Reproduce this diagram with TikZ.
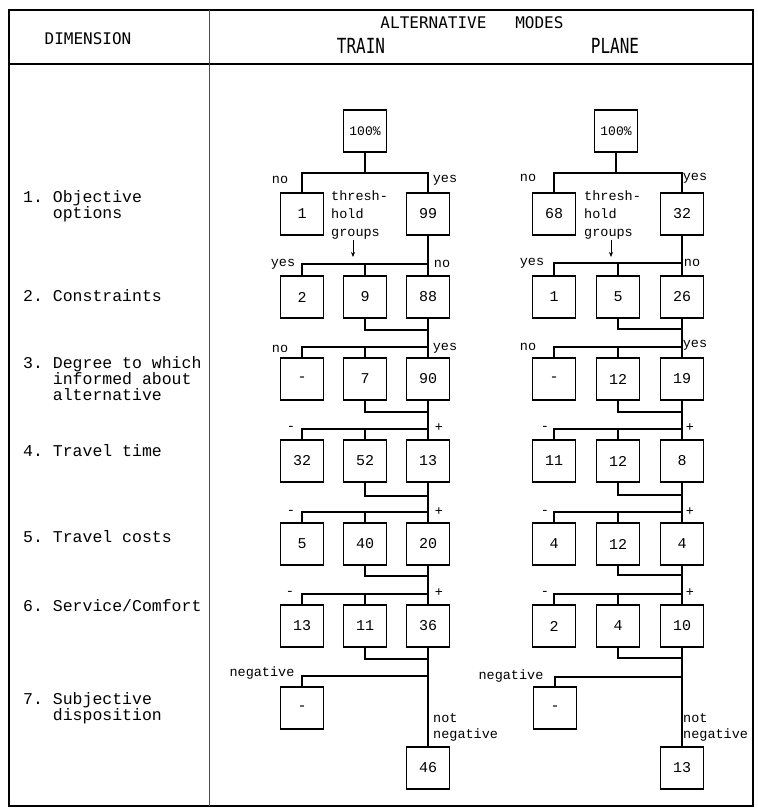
\documentclass[tikz,border=0pt]{standalone}
\usepackage{fontspec}
\setmonofont{Liberation Mono}
\newfontfamily\headfont{DejaVu Sans Mono}
\usetikzlibrary{arrows.meta}

\begin{document}
\begin{tikzpicture}[
    x=1pt, y=-1pt,
    box/.style={rectangle, draw, line width=1.3pt, minimum width=43pt, minimum height=42pt, inner sep=0pt, font=\ttfamily\fontsize{15}{15}\selectfont},
    lbl/.style={inner sep=0pt, font=\ttfamily\fontsize{13.5}{18}\selectfont},
    note/.style={inner sep=0pt, anchor=north west, align=left, font=\ttfamily\fontsize{13.5}{16}\selectfont},
    dim/.style={anchor=north west, inner sep=0pt, align=left, font=\ttfamily\fontsize{16.5}{16}\selectfont},
    head/.style={inner sep=0pt, font=\headfont\fontsize{16}{16}\selectfont},
    link/.style={line width=1.4pt},
    arrow/.style={-{Stealth[length=5pt,width=4pt]}, line width=0.8pt}
]
\useasboundingbox (0,0) rectangle (758,809);

% Table frame
\draw[line width=1.4pt] (9,10) rectangle (753,806);
\draw[line width=1.4pt] (9,64) -- (753,64);
\draw[line width=0.7pt, black!70] (209,10) -- (209,806);

% Header
\node[head] (dimh) at (88,39) {DIMENSION};
\node[head] (modes) at (472,23) {ALTERNATIVE\ \ \ MODES};
\node[head] (train) at (361,46) {\scalebox{1}[1.3]{TRAIN}};
\node[head] (plane) at (615,46) {\scalebox{1}[1.3]{PLANE}};

% Dimensions (left column)
\node[dim] (d1) at (23,190) {1. Objective\\\hphantom{1. }options};
\node[dim] (d2) at (23,289) {2. Constraints};
\node[dim] (d3) at (23,356) {3. Degree to which\\\hphantom{3. }informed about\\\hphantom{3. }alternative};
\node[dim] (d4) at (23,444) {4. Travel time};
\node[dim] (d5) at (23,530) {5. Travel costs};
\node[dim] (d6) at (23,599) {6. Service/Comfort};
\node[dim] (d7) at (23,692) {7. Subjective\\\hphantom{7. }disposition};

% Train boxes
\node[box] (t0) at (365,131) {\fontsize{13}{13}\selectfont 100\%};
\node[box] (t1a) at (302,214) {1}; \node[box] (t1c) at (428,214) {99};
\node[box] (t2a) at (302,297) {2}; \node[box] (t2b) at (365,297) {9}; \node[box] (t2c) at (428,297) {88};
\node[box] (t3a) at (302,379) {-}; \node[box] (t3b) at (365,379) {7}; \node[box] (t3c) at (428,379) {90};
\node[box] (t4a) at (302,461) {32}; \node[box] (t4b) at (365,461) {52}; \node[box] (t4c) at (428,461) {13};
\node[box] (t5a) at (302,544) {5}; \node[box] (t5b) at (365,544) {40}; \node[box] (t5c) at (428,544) {20};
\node[box] (t6a) at (302,626) {13}; \node[box] (t6b) at (365,626) {11}; \node[box] (t6c) at (428,626) {36};
\node[box] (t7) at (302,708) {-};
\node[box] (t8) at (428,768) {46};

% Plane boxes
\node[box] (p0) at (616,131) {\fontsize{13}{13}\selectfont 100\%};
\node[box] (p1a) at (554,214) {68}; \node[box] (p1c) at (682,214) {32};
\node[box] (p2a) at (554,297) {1}; \node[box] (p2b) at (618,297) {5}; \node[box] (p2c) at (682,297) {26};
\node[box] (p3a) at (554,379) {-}; \node[box] (p3b) at (618,379) {12}; \node[box] (p3c) at (682,379) {19};
\node[box] (p4a) at (554,461) {11}; \node[box] (p4b) at (618,461) {12}; \node[box] (p4c) at (682,461) {8};
\node[box] (p5a) at (554,544) {4}; \node[box] (p5b) at (618,544) {12}; \node[box] (p5c) at (682,544) {4};
\node[box] (p6a) at (554,626) {2}; \node[box] (p6b) at (618,626) {4}; \node[box] (p6c) at (682,626) {10};
\node[box] (p7) at (555,708) {-};
\node[box] (p8) at (682,768) {13};

% Train labels
\node[lbl] (tno1) at (280,180) {no}; \node[lbl] (tyes1) at (445,180) {yes};
\node[lbl] (tyes2) at (283,264) {yes}; \node[lbl] (tno2) at (442,264) {no};
\node[lbl] (tno3) at (280,349) {no}; \node[lbl] (tyes3) at (445,348) {yes};
\node[lbl] (tm4) at (291,428) {-}; \node[lbl] (tp4) at (439,428) {+};
\node[lbl] (tm5) at (291,512) {-}; \node[lbl] (tp5) at (439,512) {+};
\node[lbl] (tm6) at (290,593) {-}; \node[lbl] (tp6) at (439,593) {+};
\node[lbl] (tneg) at (262,673) {negative};
\node[note] (tnot) at (433,713) {not\\negative};
\node[note, font=\ttfamily\fontsize{13.5}{18}\selectfont] (tthr) at (331,191) {thresh-\\hold\\groups};

% Plane labels
\node[lbl] (pno1) at (528,178) {no}; \node[lbl] (pyes1) at (695,178) {yes};
\node[lbl] (pyes2) at (532,263) {yes}; \node[lbl] (pno2) at (692,263) {no};
\node[lbl] (pno3) at (528,347) {no}; \node[lbl] (pyes3) at (695,345) {yes};
\node[lbl] (pm4) at (545,428) {-}; \node[lbl] (pp4) at (690,428) {+};
\node[lbl] (pm5) at (545,512) {-}; \node[lbl] (pp5) at (690,512) {+};
\node[lbl] (pm6) at (545,593) {-}; \node[lbl] (pp6) at (690,593) {+};
\node[lbl] (pneg) at (511,676) {negative};
\node[note] (pnot) at (683,713) {not\\negative};
\node[note, font=\ttfamily\fontsize{13.5}{18}\selectfont] (pthr) at (584,191) {thresh-\\hold\\groups};

% Threshold arrows
\coordinate (tarr) at (353,257); \draw[arrow] (tthr.south -| tarr) -- (tarr);
\coordinate (parr) at (611,257); \draw[arrow] (pthr.south -| parr) -- (parr);

% Train connections
\coordinate (tb1) at (365,173);
\draw[link] (t0) -- (tb1); \draw[link] (t1a) |- (tb1) -| (t1c);
\coordinate (tb2) at (428,264); \coordinate (tu2) at (428,330);
\draw[link] (t1c) -- (t2c); \draw[link] (t2a) |- (tb2); \draw[link] (t2b) -- (t2b |- tb2); \draw[link] (t2b) |- (tu2);
\coordinate (tb3) at (428,347); \coordinate (tu3) at (428,412);
\draw[link] (t2c) -- (t3c); \draw[link] (t3a) |- (tb3); \draw[link] (t3b) -- (t3b |- tb3); \draw[link] (t3b) |- (tu3);
\coordinate (tb4) at (428,429); \coordinate (tu4) at (428,496);
\draw[link] (t3c) -- (t4c); \draw[link] (t4a) |- (tb4); \draw[link] (t4b) -- (t4b |- tb4); \draw[link] (t4b) |- (tu4);
\coordinate (tb5) at (428,512); \coordinate (tu5) at (428,576);
\draw[link] (t4c) -- (t5c); \draw[link] (t5a) |- (tb5); \draw[link] (t5b) -- (t5b |- tb5); \draw[link] (t5b) |- (tu5);
\coordinate (tb6) at (428,594); \coordinate (tu6) at (428,659);
\draw[link] (t5c) -- (t6c); \draw[link] (t6a) |- (tb6); \draw[link] (t6b) -- (t6b |- tb6); \draw[link] (t6b) |- (tu6);
\coordinate (tb7) at (428,676);
\draw[link] (t6c) -- (t8); \draw[link] (t7) |- (tb7);

% Plane connections
\coordinate (pb1) at (616,173);
\draw[link] (p0) -- (pb1); \draw[link] (p1a) |- (pb1) -| (p1c);
\coordinate (pb2) at (682,263); \coordinate (pu2) at (682,329);
\draw[link] (p1c) -- (p2c); \draw[link] (p2a) |- (pb2); \draw[link] (p2b) -- (p2b |- pb2); \draw[link] (p2b) |- (pu2);
\coordinate (pb3) at (682,347); \coordinate (pu3) at (682,412);
\draw[link] (p2c) -- (p3c); \draw[link] (p3a) |- (pb3); \draw[link] (p3b) -- (p3b |- pb3); \draw[link] (p3b) |- (pu3);
\coordinate (pb4) at (682,429); \coordinate (pu4) at (682,495);
\draw[link] (p3c) -- (p4c); \draw[link] (p4a) |- (pb4); \draw[link] (p4b) -- (p4b |- pb4); \draw[link] (p4b) |- (pu4);
\coordinate (pb5) at (682,512); \coordinate (pu5) at (682,575);
\draw[link] (p4c) -- (p5c); \draw[link] (p5a) |- (pb5); \draw[link] (p5b) -- (p5b |- pb5); \draw[link] (p5b) |- (pu5);
\coordinate (pb6) at (682,594); \coordinate (pu6) at (682,658);
\draw[link] (p5c) -- (p6c); \draw[link] (p6a) |- (pb6); \draw[link] (p6b) -- (p6b |- pb6); \draw[link] (p6b) |- (pu6);
\coordinate (pb7) at (682,677);
\draw[link] (p6c) -- (p8); \draw[link] (p7) |- (pb7);

\end{tikzpicture}
\end{document}
